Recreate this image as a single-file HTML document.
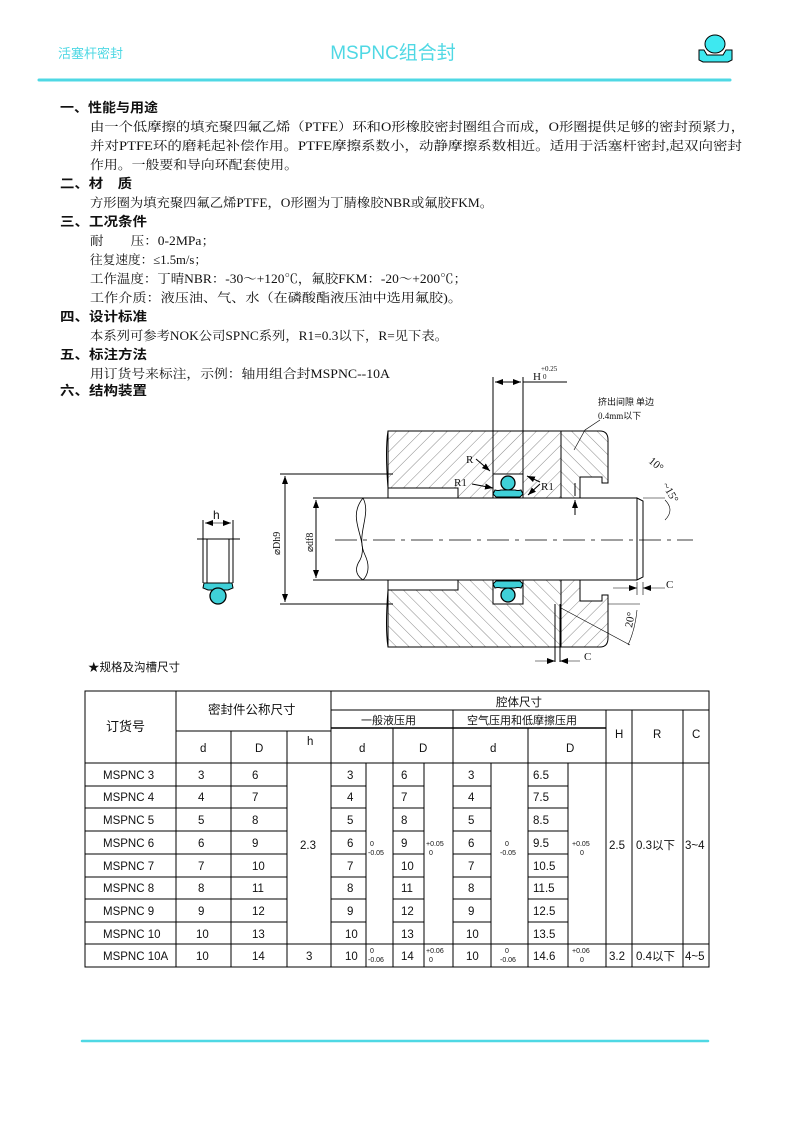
<!DOCTYPE html>
<html><head><meta charset="utf-8"><style>
html,body{margin:0;padding:0;background:#fff;width:794px;height:1123px;overflow:hidden}
svg{display:block}
.h{font-family:"Liberation Sans","Noto Sans CJK SC",sans-serif;font-size:13px;font-weight:bold;fill:#111}
.b{font-family:"Liberation Serif","Noto Serif CJK SC",serif;font-size:12.5px;fill:#111}
.t{font-family:"Liberation Sans","Noto Sans CJK SC",sans-serif;font-size:11.5px;fill:#111}
.s{font-family:"Liberation Sans",sans-serif;font-size:7px;fill:#111}
.d{font-family:"Liberation Serif",serif;font-size:11px;fill:#111}
</style></head><body>
<svg width="794" height="1123" viewBox="0 0 794 1123" xmlns="http://www.w3.org/2000/svg">
<defs>
<pattern id="ha" width="9" height="9" patternUnits="userSpaceOnUse" patternTransform="rotate(45)"><line x1="0" y1="0" x2="0" y2="9" stroke="#555" stroke-width="0.7"/></pattern>
<pattern id="hb" width="9" height="9" patternUnits="userSpaceOnUse" patternTransform="rotate(-45)"><line x1="0" y1="0" x2="0" y2="9" stroke="#555" stroke-width="0.7"/></pattern>
<marker id="ar" markerWidth="8" markerHeight="6" refX="8" refY="3" orient="auto" markerUnits="userSpaceOnUse"><path d="M0 0 L8 3 L0 6 Z" fill="#000"/></marker>
</defs>
<!-- header -->
<text x="58" y="58" font-family="Liberation Sans,'Noto Sans CJK SC',sans-serif" font-size="13" fill="#4fd8e4">活塞杆密封</text>
<text x="393" y="59" text-anchor="middle" font-family="Liberation Sans,'Noto Sans CJK SC',sans-serif" font-size="19" fill="#4fd8e4">MSPNC组合封</text>
<ellipse cx="715" cy="44" rx="10" ry="9" fill="#3ee8f0" stroke="#000" stroke-width="1"/>
<path d="M699 50 L704 50 L707 55 L723 55 L726 50 L732 50 L732 60 L728 62 L703 62 L699 60 Z" fill="#3ee8f0" stroke="#000" stroke-width="1"/>
<line x1="39" y1="80" x2="730" y2="80" stroke="#4fd8e4" stroke-width="3" stroke-linecap="round"/>
<line x1="82" y1="1041" x2="708" y2="1041" stroke="#4fd8e4" stroke-width="2.5" stroke-linecap="round"/>

<!-- body text -->
<text class="h" x="60" y="112" textLength="98" lengthAdjust="spacingAndGlyphs">一、性能与用途</text>
<text class="b" x="90" y="131" textLength="655" lengthAdjust="spacingAndGlyphs">由一个低摩擦的填充聚四氟乙烯（PTFE）环和O形橡胶密封圈组合而成，O形圈提供足够的密封预紧力，</text>
<text class="b" x="90" y="150" textLength="652" lengthAdjust="spacingAndGlyphs">并对PTFE环的磨耗起补偿作用。PTFE摩擦系数小，动静摩擦系数相近。适用于活塞杆密封,起双向密封</text>
<text class="b" x="90" y="169" textLength="208" lengthAdjust="spacingAndGlyphs">作用。一般要和导向环配套使用。</text>
<text class="h" x="60" y="188" textLength="72" lengthAdjust="spacingAndGlyphs">二、材　质</text>
<text class="b" x="90" y="207" textLength="403" lengthAdjust="spacingAndGlyphs">方形圈为填充聚四氟乙烯PTFE，O形圈为丁腈橡胶NBR或氟胶FKM。</text>
<text class="h" x="60" y="226" textLength="87" lengthAdjust="spacingAndGlyphs">三、工况条件</text>
<text class="b" x="90" y="245" textLength="125" lengthAdjust="spacingAndGlyphs">耐　　压：0-2MPa；</text>
<text class="b" x="90" y="264" textLength="117" lengthAdjust="spacingAndGlyphs">往复速度：≤1.5m/s；</text>
<text class="b" x="90" y="283" textLength="377" lengthAdjust="spacingAndGlyphs">工作温度：丁晴NBR：-30～+120℃，氟胶FKM：-20～+200℃；</text>
<text class="b" x="90" y="302" textLength="372" lengthAdjust="spacingAndGlyphs">工作介质：液压油、气、水（在磷酸酯液压油中选用氟胶)。</text>
<text class="h" x="60" y="321" textLength="87" lengthAdjust="spacingAndGlyphs">四、设计标准</text>
<text class="b" x="90" y="340" textLength="358" lengthAdjust="spacingAndGlyphs">本系列可参考NOK公司SPNC系列，R1=0.3以下，R=见下表。</text>
<text class="h" x="60" y="359" textLength="87" lengthAdjust="spacingAndGlyphs">五、标注方法</text>
<text class="b" x="90" y="378" textLength="300" lengthAdjust="spacingAndGlyphs">用订货号来标注，示例：轴用组合封MSPNC--10A</text>
<text class="h" x="60" y="395" textLength="87" lengthAdjust="spacingAndGlyphs">六、结构装置</text>

<!-- drawing -->
<g stroke="#000" stroke-width="1" fill="none">
<g id="top">
 <path d="M388 431 L561 431 L561 498 L523 498 L523 474 L493 474 L493 498 L458 498 L458 488 L388 488 Z" fill="url(#ha)"/>
 <path d="M561 431 L600 431 Q608 431 608 440 L608 483 L602 483 L602 477 L580 477 L580 498 L561 498 Z" fill="url(#hb)"/>
 <path d="M388 431 Q385 450 388 488" />
 <rect x="388" y="488" width="70" height="10" fill="#fff"/>
 <circle cx="508" cy="483" r="7" fill="#3fd0d8" stroke-width="1.3"/>
 <path d="M495 490 Q498 491 501 490 L515 490 Q518 491 521 490 L523 494 L520 497 L496 497 L493 494 Z" fill="#3fd0d8"/>
</g>
<use href="#top" transform="translate(0,1078) scale(1,-1)"/>
<!-- rod -->
<line x1="313" y1="498" x2="637" y2="498"/>
<line x1="313" y1="580" x2="637" y2="580"/>
<path d="M637 498 L643 501 L643 577 L637 580 Z"/>
<path d="M363 498 C345 520 370 540 360 560 C352 572 360 578 363 580" stroke-width="0.8"/>
<path d="M363 498 C372 515 355 535 365 555 C372 570 365 578 363 580" stroke-width="0.8"/>
<line x1="335" y1="540" x2="693" y2="540" stroke-dasharray="22,6,4,6" stroke-width="0.8"/>
<!-- Dh9 lines -->
<line x1="280" y1="474" x2="393" y2="474"/>
<line x1="280" y1="604" x2="393" y2="604"/>
<line x1="285" y1="540" x2="285" y2="476" marker-end="url(#ar)"/>
<line x1="285" y1="540" x2="285" y2="602" marker-end="url(#ar)"/>
<line x1="316" y1="540" x2="316" y2="500" marker-end="url(#ar)"/>
<line x1="316" y1="540" x2="316" y2="578" marker-end="url(#ar)"/>
<!-- H dim -->
<line x1="493" y1="377" x2="493" y2="474"/>
<line x1="523" y1="377" x2="523" y2="474"/>
<line x1="508" y1="382" x2="495" y2="382" marker-end="url(#ar)"/>
<line x1="508" y1="382" x2="521" y2="382" marker-end="url(#ar)"/>
<line x1="523" y1="382" x2="567" y2="382"/>
<!-- leaders -->
<path d="M476 459 L490 471" marker-end="url(#ar)"/><path d="M472 484 L493 488" marker-end="url(#ar)"/><path d="M540 482 L527 476" marker-end="url(#ar)"/><path d="M540 484 L528 495" marker-end="url(#ar)"/>
<path d="M574 450 L585 430 L600 420" stroke-width="0.6"/>
<line x1="575" y1="515" x2="575" y2="500" marker-end="url(#ar)"/>
<line x1="575" y1="483" x2="575" y2="496"/>
<line x1="643" y1="498" x2="665" y2="498" stroke-width="0.6"/>
<path d="M665 500 Q675 510 665 520" stroke-width="0.6"/>
<line x1="613" y1="588" x2="637" y2="588" stroke-width="0.6" marker-end="url(#ar)"/><line x1="665" y1="588" x2="643" y2="588" stroke-width="0.6" marker-end="url(#ar)"/>
<line x1="637" y1="582" x2="637" y2="595" stroke-width="0.6"/><line x1="643" y1="582" x2="643" y2="595" stroke-width="0.6"/>
<line x1="555" y1="604" x2="555" y2="662"/><line x1="560" y1="604" x2="560" y2="662"/>
<line x1="535" y1="661" x2="555" y2="661" stroke-width="0.6" marker-end="url(#ar)"/><line x1="580" y1="661" x2="560" y2="661" stroke-width="0.6" marker-end="url(#ar)"/>
<line x1="561" y1="608" x2="630" y2="645" stroke-width="0.6"/>
<line x1="608" y1="604" x2="640" y2="604" stroke-width="0.6"/>
<path d="M637 610 Q635 630 628 645" stroke-width="0.6"/>
<!-- small seal -->
<line x1="197" y1="539" x2="240" y2="539"/>
<line x1="203" y1="520" x2="203" y2="583"/><line x1="233" y1="520" x2="233" y2="583"/>
<line x1="207" y1="539" x2="207" y2="583"/><line x1="229" y1="539" x2="229" y2="583"/>
<line x1="218" y1="523" x2="205" y2="523" stroke-width="0.6" marker-end="url(#ar)"/>
<line x1="218" y1="523" x2="231" y2="523" stroke-width="0.6" marker-end="url(#ar)"/>
<path d="M204 583 L232 583 L233 588 L228 590 L208 590 L203 588 Z" fill="#3fd0d8"/>
<circle cx="218" cy="596" r="8" fill="#3fd0d8" stroke-width="1.3"/>
</g>
<g class="d">
<text x="213" y="519" font-family="Liberation Sans" font-size="12">h</text>
<text x="533" y="380">H</text><text x="541" y="371" font-size="7">+0.25</text><text x="543" y="379" font-size="7">0</text>
<text x="598" y="405" font-family="'Noto Sans CJK SC',sans-serif" font-size="9">挤出间隙 单边</text>
<text x="598" y="419" font-size="9">0.4mm以下</text>
<text x="466" y="463">R</text><text x="454" y="486">R1</text><text x="541" y="490">R1</text>
<text x="648" y="462" transform="rotate(40 648 462)">10°</text>
<text x="662" y="485" transform="rotate(60 662 485)">~15°</text>
<text x="666" y="588">C</text><text x="584" y="660">C</text>
<text x="632" y="628" transform="rotate(-80 632 628)">20°</text>
<text x="280" y="555" transform="rotate(-90 280 555)" font-size="10">⌀Dh9</text>
<text x="313" y="552" transform="rotate(-90 313 552)" font-size="10">⌀df8</text>
</g>

<text x="88" y="671" class="t" font-size="12">★规格及沟槽尺寸</text>

<!-- table -->
<g stroke="#000" stroke-width="1" fill="none">
<rect x="85" y="691" width="624" height="276"/>
<line x1="176" y1="691" x2="176" y2="967"/>
<line x1="331" y1="691" x2="331" y2="967"/>
<line x1="331" y1="710" x2="709" y2="710"/>
<line x1="331" y1="728" x2="606" y2="728" stroke-width="1.5"/>
<line x1="453" y1="710" x2="453" y2="967"/>
<line x1="606" y1="710" x2="606" y2="967"/>
<line x1="632" y1="710" x2="632" y2="967"/>
<line x1="683" y1="710" x2="683" y2="967"/>
<line x1="176" y1="731" x2="331" y2="731"/>
<line x1="231" y1="731" x2="231" y2="967"/>
<line x1="287" y1="731" x2="287" y2="967"/>
<line x1="393" y1="728" x2="393" y2="967"/>
<line x1="528" y1="728" x2="528" y2="967"/>
<line x1="85" y1="763" x2="709" y2="763"/>
<line x1="85" y1="944" x2="709" y2="944"/>
<line x1="366" y1="763" x2="366" y2="967"/>
<line x1="424" y1="763" x2="424" y2="967"/>
<line x1="491" y1="763" x2="491" y2="967"/>
<line x1="568" y1="763" x2="568" y2="967"/>
</g>
<g stroke="#000" stroke-width="1">
<path d="M85 786H287M331 786H366M393 786H424M453 786H491M528 786H568"/>
<path d="M85 808H287M331 808H366M393 808H424M453 808H491M528 808H568"/>
<path d="M85 831H287M331 831H366M393 831H424M453 831H491M528 831H568"/>
<path d="M85 854H287M331 854H366M393 854H424M453 854H491M528 854H568"/>
<path d="M85 877H287M331 877H366M393 877H424M453 877H491M528 877H568"/>
<path d="M85 899H287M331 899H366M393 899H424M453 899H491M528 899H568"/>
<path d="M85 922H287M331 922H366M393 922H424M453 922H491M528 922H568"/>
</g>
<g class="t">
<text x="106" y="731" font-size="13">订货号</text>
<text x="208" y="714" font-size="12.5">密封件公称尺寸</text>
<text x="496" y="706">腔体尺寸</text>
<text x="361" y="724" font-size="11">一般液压用</text>
<text x="467" y="724" font-size="11">空气压用和低摩擦压用</text>
<text x="200" y="752">d</text><text x="255" y="752">D</text><text x="307" y="745">h</text>
<text x="359" y="752">d</text><text x="419" y="752">D</text><text x="490" y="752">d</text><text x="566" y="752">D</text>
<text x="615" y="738">H</text><text x="653" y="738">R</text><text x="692" y="738">C</text>
</g>
<g class="t" font-size="11">
<text x="103" y="779">MSPNC 3</text><text x="103" y="801">MSPNC 4</text><text x="103" y="824">MSPNC 5</text><text x="103" y="847">MSPNC 6</text><text x="103" y="870">MSPNC 7</text><text x="103" y="892">MSPNC 8</text><text x="103" y="915">MSPNC 9</text><text x="103" y="938">MSPNC 10</text><text x="103" y="960">MSPNC 10A</text>
</g>
<g class="t" font-size="11.5">
<text x="198" y="779">3</text><text x="252" y="779">6</text><text x="347" y="779">3</text><text x="401" y="779">6</text><text x="468" y="779">3</text><text x="533" y="779">6.5</text>
<text x="198" y="801">4</text><text x="252" y="801">7</text><text x="347" y="801">4</text><text x="401" y="801">7</text><text x="468" y="801">4</text><text x="533" y="801">7.5</text>
<text x="198" y="824">5</text><text x="252" y="824">8</text><text x="347" y="824">5</text><text x="401" y="824">8</text><text x="468" y="824">5</text><text x="533" y="824">8.5</text>
<text x="198" y="847">6</text><text x="252" y="847">9</text><text x="347" y="847">6</text><text x="401" y="847">9</text><text x="468" y="847">6</text><text x="533" y="847">9.5</text>
<text x="198" y="870">7</text><text x="252" y="870">10</text><text x="347" y="870">7</text><text x="401" y="870">10</text><text x="468" y="870">7</text><text x="533" y="870">10.5</text>
<text x="198" y="892">8</text><text x="252" y="892">11</text><text x="347" y="892">8</text><text x="401" y="892">11</text><text x="468" y="892">8</text><text x="533" y="892">11.5</text>
<text x="198" y="915">9</text><text x="252" y="915">12</text><text x="347" y="915">9</text><text x="401" y="915">12</text><text x="468" y="915">9</text><text x="533" y="915">12.5</text>
<text x="196" y="938">10</text><text x="252" y="938">13</text><text x="345" y="938">10</text><text x="401" y="938">13</text><text x="466" y="938">10</text><text x="533" y="938">13.5</text>
<text x="196" y="960">10</text><text x="252" y="960">14</text><text x="306" y="960">3</text><text x="345" y="960">10</text><text x="401" y="960">14</text><text x="466" y="960">10</text><text x="533" y="960">14.6</text>
<text x="300" y="849">2.3</text><text x="609" y="849">2.5</text><text x="636" y="849">0.3以下</text><text x="685" y="849">3~4</text>
<text x="609" y="960">3.2</text><text x="636" y="960">0.4以下</text><text x="685" y="960">4~5</text>
</g>
<g class="s">
<text x="370" y="846">0</text><text x="368" y="855">-0.05</text>
<text x="426" y="846">+0.05</text><text x="429" y="855">0</text>
<text x="505" y="846">0</text><text x="500" y="855">-0.05</text>
<text x="572" y="846">+0.05</text><text x="580" y="855">0</text>
<text x="370" y="953">0</text><text x="368" y="962">-0.06</text>
<text x="426" y="953">+0.06</text><text x="429" y="962">0</text>
<text x="505" y="953">0</text><text x="500" y="962">-0.06</text>
<text x="572" y="953">+0.06</text><text x="580" y="962">0</text>
</g>
</svg>
</body></html>
